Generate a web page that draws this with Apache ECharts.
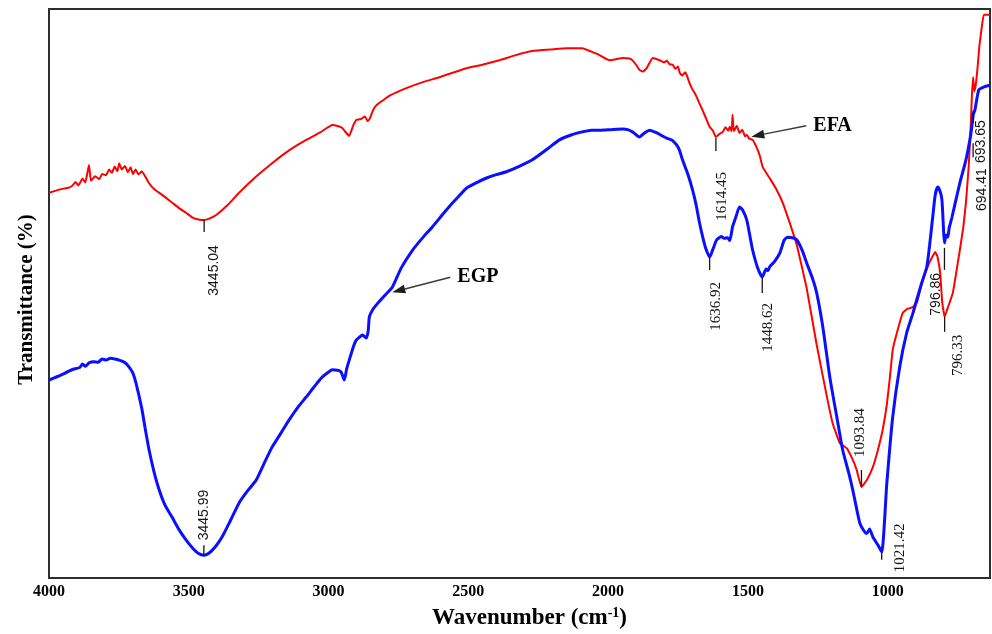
<!DOCTYPE html>
<html>
<head>
<meta charset="utf-8">
<script src="https://cdn.jsdelivr.net/npm/echarts@6/dist/echarts.min.js"></script>
<style>
  html, body { margin: 0; padding: 0; background: #ffffff; }
  #chart { width: 992px; height: 634px; }
</style>
</head>
<body>
<div id="chart"></div>
<script>
// FTIR spectra: [wavenumber (cm-1), transmittance (%)]
const efaSpectrum = [
  [4000,67.7],[3960,68.3],[3930,68.6],[3918,68.9],[3905,69.6],[3895,69.0],[3880,70.2],[3870,69.5],
  [3857,72.6],[3850,69.8],[3835,70.6],[3820,70.1],[3810,71.0],[3796,70.8],[3785,71.8],[3775,71.2],
  [3765,72.3],[3755,71.5],[3749,72.9],[3740,71.8],[3728,72.4],[3718,71.3],[3708,72.2],[3700,71.0],
  [3690,71.8],[3680,70.9],[3668,71.5],[3655,70.5],[3645,69.6],[3631,68.7],[3615,68.0],[3600,67.5],
  [3581,66.8],[3560,66.0],[3535,65.0],[3510,64.2],[3488,63.4],[3465,63.0],[3445.04,62.9],[3425,63.2],
  [3402,63.8],[3360,65.6],[3320,67.7],[3260,70.5],[3202,72.9],[3140,75.2],[3080,77.0],[3030,78.3],
  [2987,79.6],[2965,79.4],[2951,79.1],[2938,78.3],[2926,77.7],[2912,79.5],[2901,80.5],[2883,80.7],
  [2870,81.1],[2860,80.3],[2854,80.6],[2840,82.3],[2829,83.1],[2780,84.8],[2722,86.1],[2660,87.2],
  [2604,88.0],[2507,89.6],[2450,90.2],[2389,91.0],[2330,91.9],[2271,92.6],[2200,92.9],[2149,93.1],
  [2092,93.1],[2060,92.5],[2031,91.9],[2010,91.3],[1995,91.0],[1970,91.2],[1948,91.4],[1925,91.3],
  [1913,91.0],[1900,90.2],[1888,89.3],[1875,89.0],[1862,89.6],[1841,91.4],[1816,91.0],[1800,90.6],
  [1790,90.9],[1780,90.3],[1769,90.2],[1760,89.5],[1750,89.9],[1744,88.8],[1735,88.3],[1725,88.9],
  [1719,88.4],[1709,87.0],[1700,86.0],[1690,85.2],[1683,84.5],[1675,83.6],[1662,82.2],[1650,80.8],
  [1637,79.3],[1625,78.6],[1614.45,77.5],[1600,78.1],[1590,78.4],[1580,79.2],[1570,78.6],[1565,79.3],
  [1558,78.5],[1555,81.4],[1551,78.6],[1547,78.8],[1540,79.5],[1530,78.2],[1520,78.8],[1510,77.6],
  [1504,77.9],[1495,77.2],[1483,77.0],[1470,75.8],[1458,74.3],[1447,72.2],[1420,70.1],[1397,68.2],
  [1375,65.9],[1351,62.5],[1325,58.5],[1290,51.0],[1254,41.0],[1218,32.0],[1197,27.2],[1171,23.7],
  [1146,22.8],[1125,20.8],[1111,19.0],[1093.84,16.0],[1075,17.2],[1053,19.5],[1035,22.5],[1018,26.0],
  [1003,30.5],[992,35.3],[982,40.1],[967,43.1],[946,46.6],[930,47.3],[910,47.6],[895,48.5],
  [874,52.4],[850,55.5],[830,57.3],[822,56.5],[812,53.5],[805,48.5],[796.33,45.9],[785,47.5],
  [767,50.1],[742,57.6],[730,61.5],[720,66.0],[710,72.5],[703,79.3],[699,84.5],[694.41,88.0],
  [690,85.5],[684,87.0],[678,90.0],[672,93.5],[663,97.0],[656,99.0],[634,99.0]
];

const egpSpectrum = [
  [4000,34.8],[3960,35.6],[3918,36.6],[3890,37.0],[3880,37.6],[3870,37.2],[3857,37.8],[3840,38.0],
  [3825,37.9],[3810,38.5],[3796,38.3],[3780,38.6],[3765,38.5],[3749,38.3],[3730,37.9],[3714,37.1],
  [3700,36.0],[3689,34.3],[3678,32.0],[3667,29.5],[3655,26.0],[3642,22.5],[3625,18.8],[3606,15.5],
  [3585,12.8],[3560,10.7],[3535,8.5],[3510,6.7],[3485,5.2],[3465,4.3],[3445.99,4.0],[3427,4.4],
  [3405,5.5],[3381,7.2],[3350,10.2],[3320,13.2],[3290,15.3],[3259,17.2],[3230,20.2],[3202,23.0],
  [3170,25.5],[3141,27.8],[3110,30.0],[3080,31.8],[3050,33.7],[3023,35.3],[3000,36.2],[2987,36.6],
  [2968,36.5],[2955,36.2],[2944,34.8],[2935,36.8],[2926,38.3],[2910,40.8],[2901,41.8],[2890,42.3],
  [2879,42.7],[2865,42.2],[2858,43.5],[2854,45.9],[2840,47.3],[2829,48.0],[2800,49.6],[2772,51.1],
  [2740,54.5],[2700,57.6],[2660,60.0],[2629,61.7],[2590,64.0],[2557,65.9],[2530,67.3],[2507,68.5],
  [2470,69.5],[2435,70.3],[2400,70.9],[2364,71.4],[2320,72.3],[2271,73.5],[2220,75.3],[2174,77.0],
  [2130,77.9],[2092,78.4],[2060,78.7],[2031,78.7],[1990,78.8],[1948,78.9],[1930,78.8],[1913,78.4],
  [1900,77.9],[1888,77.5],[1870,78.2],[1852,78.7],[1830,78.3],[1810,77.8],[1791,77.3],[1770,76.9],
  [1755,76.1],[1745,75.2],[1734,73.5],[1715,71.0],[1698,68.2],[1685,65.5],[1673,62.4],[1660,59.6],
  [1650,57.8],[1636.92,56.4],[1625,57.8],[1612,59.4],[1595,60.0],[1585,59.7],[1572,59.8],[1565,59.3],
  [1555,61.7],[1542,63.6],[1530,65.2],[1518,64.6],[1504,62.9],[1492,59.9],[1483,57.6],[1465,54.5],
  [1448.62,52.9],[1435,54.3],[1428,54.0],[1422,54.7],[1405,55.6],[1386,57.1],[1370,59.4],[1358,59.9],
  [1340,59.8],[1325,59.4],[1305,57.5],[1290,55.4],[1270,52.8],[1254,50.1],[1232,44.1],[1207,35.3],
  [1182,28.3],[1161,22.5],[1140,18.6],[1125,15.5],[1100,9.7],[1085,8.3],[1075,7.8],[1065,8.6],
  [1053,7.2],[1035,5.8],[1021.42,4.6],[1003,16.7],[982,28.3],[957,37.1],[932,43.1],[910,46.5],
  [896,48.9],[880,51.6],[860,54.7],[850,58.5],[839,63.4],[830,67.3],[821,68.7],[813,68.0],
  [806,66.5],[800,61.0],[796.86,58.9],[791,60.3],[785,59.9],[780,61.5],[770,63.4],[742,69.4],
  [720,73.5],[706,77.0],[699,79.3],[693.65,81.5],[688,82.2],[674,85.8],[656,86.3],[634,86.6]
];

// Axis range and tick labels
const wavenumberMin = 634;
const wavenumberMax = 4000;
const xTickValues = [4000, 3500, 3000, 2500, 2000, 1500, 1000];

// Labelled band positions
const efaPeaks = [3445.04, 1614.45, 1093.84, 796.33, 694.41];
const egpPeaks = [3445.99, 1636.92, 1448.62, 1021.42, 796.86, 693.65];

// Sample names
const efaName = 'EFA';
const egpName = 'EGP';

const SERIF = '"Liberation Serif", "Times New Roman", Times, serif';
const SANS = '"Liberation Sans", Arial, Helvetica, sans-serif';
const RED = '#ff0000';
const BLUE = '#0a10ff';
const INK = '#141414';

// Placement of each band label relative to its point on the curve (pixels):
// tick = [from, to] vertical offsets, dx/dy = text anchor, align along the rotated text.
const peakLabelStyle = {
  '3445.04': { family: SANS,  size: 14, tick: [0, 12],  dx: 10, dy: 25,  align: 'right' },
  '1614.45': { family: SERIF, size: 15, tick: [1, 14],  dx: 6,  dy: 35,  align: 'right' },
  '1093.84': { family: SERIF, size: 15, tick: [-17, 0], dx: -1, dy: -30, align: 'left' },
  '796.33':  { family: SERIF, size: 15, tick: [0, 15],  dx: 13, dy: 18,  align: 'right' },
  '694.41':  { family: SANS,  size: 14, tick: [66, 80], dx: 9,  dy: 91,  align: 'right' },
  '3445.99': { family: SANS,  size: 14, tick: [-10, 0], dx: 0,  dy: -15, align: 'left' },
  '1636.92': { family: SERIF, size: 15, tick: [1, 13],  dx: 6,  dy: 25,  align: 'right' },
  '1448.62': { family: SERIF, size: 15, tick: [1, 16],  dx: 6,  dy: 26,  align: 'right' },
  '1021.42': { family: SERIF, size: 15, tick: [0, 8],   dx: 18, dy: -4,  align: 'center' },
  '796.86':  { family: SANS,  size: 14, tick: [5, 27],  dx: -8, dy: 30,  align: 'right' },
  '693.65':  { family: SANS,  size: 14, tick: [-4, 9],  dx: 8,  dy: 6,   align: 'right' }
};

function pointAt(spectrum, wn) {
  const hit = spectrum.find(function (p) { return p[0] === wn; });
  return [wn, hit[1]];
}

function peakSeries(spectrum, peaks) {
  return {
    type: 'custom',
    coordinateSystem: 'cartesian2d',
    silent: true,
    clip: false,
    z: 5,
    encode: { x: 0, y: 1 },
    data: peaks.map(function (wn) { return pointAt(spectrum, wn); }),
    renderItem: function (params, api) {
      const wn = api.value(0);
      const p = api.coord([wn, api.value(1)]);
      const text = wn.toFixed(2);
      const s = peakLabelStyle[text];
      return {
        type: 'group',
        children: [
          {
            type: 'line',
            shape: { x1: p[0], y1: p[1] + s.tick[0], x2: p[0], y2: p[1] + s.tick[1] },
            style: { stroke: INK, lineWidth: 1.3 }
          },
          {
            type: 'text',
            x: p[0] + s.dx,
            y: p[1] + s.dy,
            rotation: Math.PI / 2,
            style: {
              text: text,
              fontFamily: s.family,
              fontSize: s.size,
              fill: INK,
              align: s.align,
              verticalAlign: 'middle'
            }
          }
        ]
      };
    }
  };
}

const chart = echarts.init(document.getElementById('chart'), null, { renderer: 'canvas' });

chart.setOption({
  animation: false,
  backgroundColor: '#ffffff',
  grid: {
    left: 49, right: 2, top: 9, bottom: 56,
    outerBoundsMode: 'none',
    show: true,
    borderColor: '#2e2e2e',
    borderWidth: 2,
    backgroundColor: 'transparent'
  },
  xAxis: {
    type: 'value',
    inverse: true,
    min: wavenumberMin,
    max: wavenumberMax,
    axisLine: { show: false },
    axisTick: { show: false },
    splitLine: { show: false },
    axisLabel: {
      customValues: xTickValues,
      formatter: function (v) { return String(v); },
      margin: 6,
      color: '#000',
      fontFamily: SERIF,
      fontWeight: 'bold',
      fontSize: 16
    },
    name: '{t|Wavenumber (cm}{s|-1}{t|)}',
    nameLocation: 'middle',
    nameGap: 28,
    nameTextStyle: {
      padding: [0, 0, 0, 20],
      rich: {
        t: { fontFamily: SERIF, fontWeight: 'bold', fontSize: 23, color: '#000' },
        s: { fontFamily: SERIF, fontWeight: 'bold', fontSize: 14, color: '#000', padding: [0, 0, 11, 0] }
      }
    }
  },
  yAxis: {
    type: 'value',
    min: 0,
    max: 100,
    axisLine: { show: false },
    axisTick: { show: false },
    axisLabel: { show: false },
    splitLine: { show: false },
    name: 'Transmittance (%)',
    nameLocation: 'middle',
    nameRotate: 90,
    nameGap: 12,
    nameTextStyle: { fontFamily: SERIF, fontWeight: 'bold', fontSize: 21, color: '#000', padding: [0, 0, 0, -12] }
  },
  series: [
    {
      name: efaName,
      type: 'line',
      data: efaSpectrum,
      showSymbol: false,
      symbol: 'none',
      smooth: 0.1,
      lineStyle: { color: RED, width: 2 },
      z: 2
    },
    {
      name: egpName,
      type: 'line',
      data: egpSpectrum,
      showSymbol: false,
      symbol: 'none',
      smooth: 0.2,
      lineStyle: { color: BLUE, width: 3 },
      z: 3
    },
    peakSeries(efaSpectrum, efaPeaks),
    peakSeries(egpSpectrum, egpPeaks)
  ]
});

// Name callouts: an arrow pointing at a point of each curve, with the sample name at its tail.
const callouts = [
  { text: efaName, spectrum: efaSpectrum, at: 1495, tip: [2, -2], tail: [55, -11], gap: 7 },
  { text: egpName, spectrum: egpSpectrum, at: 2772, tip: [0, 5], tail: [58, -15], gap: 7 }
];

const graphics = [];
callouts.forEach(function (c) {
  const base = chart.convertToPixel({ gridIndex: 0 }, pointAt(c.spectrum, c.at));
  const tx = base[0] + c.tip[0], ty = base[1] + c.tip[1];
  const ex = tx + c.tail[0], ey = ty + c.tail[1];
  const ang = Math.atan2(ey - ty, ex - tx);
  const headLen = 13, headHalf = 4.5;
  const bx = tx + Math.cos(ang) * headLen, by = ty + Math.sin(ang) * headLen;
  const nx = -Math.sin(ang) * headHalf, ny = Math.cos(ang) * headHalf;
  graphics.push({
    type: 'line',
    shape: { x1: bx, y1: by, x2: ex, y2: ey },
    style: { stroke: '#3a3a3a', lineWidth: 1.4 },
    silent: true
  });
  graphics.push({
    type: 'polygon',
    shape: { points: [[tx, ty], [bx + nx, by + ny], [bx - nx, by - ny]] },
    style: { fill: '#1e1e1e' },
    silent: true
  });
  graphics.push({
    type: 'text',
    x: ex + c.gap,
    y: ey,
    style: {
      text: c.text,
      fontFamily: SERIF,
      fontWeight: 'bold',
      fontSize: 20,
      fill: '#000',
      align: 'left',
      verticalAlign: 'middle'
    },
    silent: true
  });
});
chart.setOption({ graphic: graphics });
</script>
</body>
</html>
